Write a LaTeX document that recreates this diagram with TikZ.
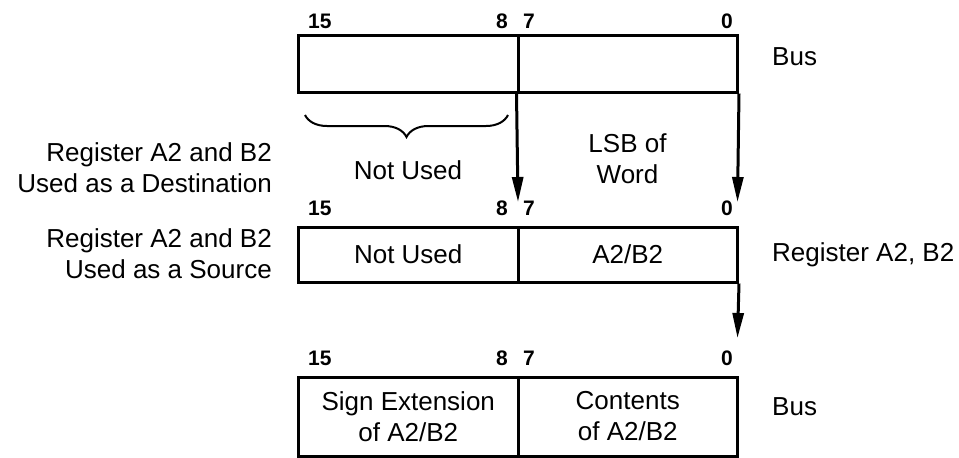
\documentclass[tikz,border=0pt]{standalone}
\usepackage{fontspec}
\setmainfont{Liberation Sans}
\usetikzlibrary{arrows.meta, decorations.pathreplacing}

\begin{document}
\begin{tikzpicture}[x=1pt,y=-1pt,
  field/.style={draw, line width=3pt, minimum height=#1, minimum width=219.5pt, inner sep=0pt, align=center, font=\fontsize{26}{31}\selectfont},
  bitno/.style={inner sep=0pt, font=\fontsize{21}{25}\selectfont\bfseries},
  lbl/.style={inner sep=0pt, align=center, font=\fontsize{26}{31}\selectfont},
  flow/.style={line width=3pt, -{Triangle[length=25pt, width=11pt]}}]
\useasboundingbox (0,0) rectangle (959,458);
\node[field=57pt] (bushi) at (408.25,63.5) {};
\node[field=57pt] (buslo) at (627.75,63.5) {};
\node[bitno, anchor=base west] (ahi) at (308,28) {15};
\node[bitno, anchor=base east] (ahil) at (508,28) {8};
\node[bitno, anchor=base west] (alo) at (523,28) {7};
\node[bitno, anchor=base east] (alol) at (733,28) {0};
\node[lbl, anchor=base west] (busa) at (772,65) {Bus};
\draw[line width=2pt, decorate, decoration={brace, amplitude=22pt}] (508,115) -- (305,115);
\node[lbl] (nua) at (408,170) {Not Used};
\node[lbl] (lsb) at (627.5,158.3) {LSB of\\Word};
\node[lbl, align=right, anchor=east] (dest) at (272,167.3) {Register A2 and B2\\Used as a Destination};
\coordinate (tip7) at (518,202);
\coordinate (tip0) at (737.5,202);
\draw[flow] (buslo.south west) -- (tip7);
\draw[flow] (buslo.south east) -- (tip0);
\node[bitno, anchor=base west] (bhi) at (308,215) {15};
\node[bitno, anchor=base east] (bhil) at (508,215) {8};
\node[bitno, anchor=base west] (blo) at (523,215) {7};
\node[bitno, anchor=base east] (blol) at (733,215) {0};
\node[field=55pt] (reghi) at (408.25,254.5) {Not Used};
\node[field=55pt] (reglo) at (627.75,254.5) {A2/B2};
\node[lbl, align=right, anchor=east] (src) at (272,253.3) {Register A2 and B2\\Used as a Source};
\node[lbl, anchor=base west] (reg) at (772,261.7) {Register A2, B2};
\coordinate (tipb) at (737.5,338);
\draw[flow] (reglo.south east) -- (tipb);
\node[bitno, anchor=base west] (chi) at (308,365) {15};
\node[bitno, anchor=base east] (chil) at (508,365) {8};
\node[bitno, anchor=base west] (clo) at (523,365) {7};
\node[bitno, anchor=base east] (clol) at (733,365) {0};
\node[field=79pt] (sgn) at (408.25,416.5) {Sign Extension\\of A2/B2};
\node[field=79pt] (cnt) at (627.75,416.5) {Contents\\of A2/B2};
\node[lbl, anchor=base west] (busb) at (772,415) {Bus};
\end{tikzpicture}
\end{document}
